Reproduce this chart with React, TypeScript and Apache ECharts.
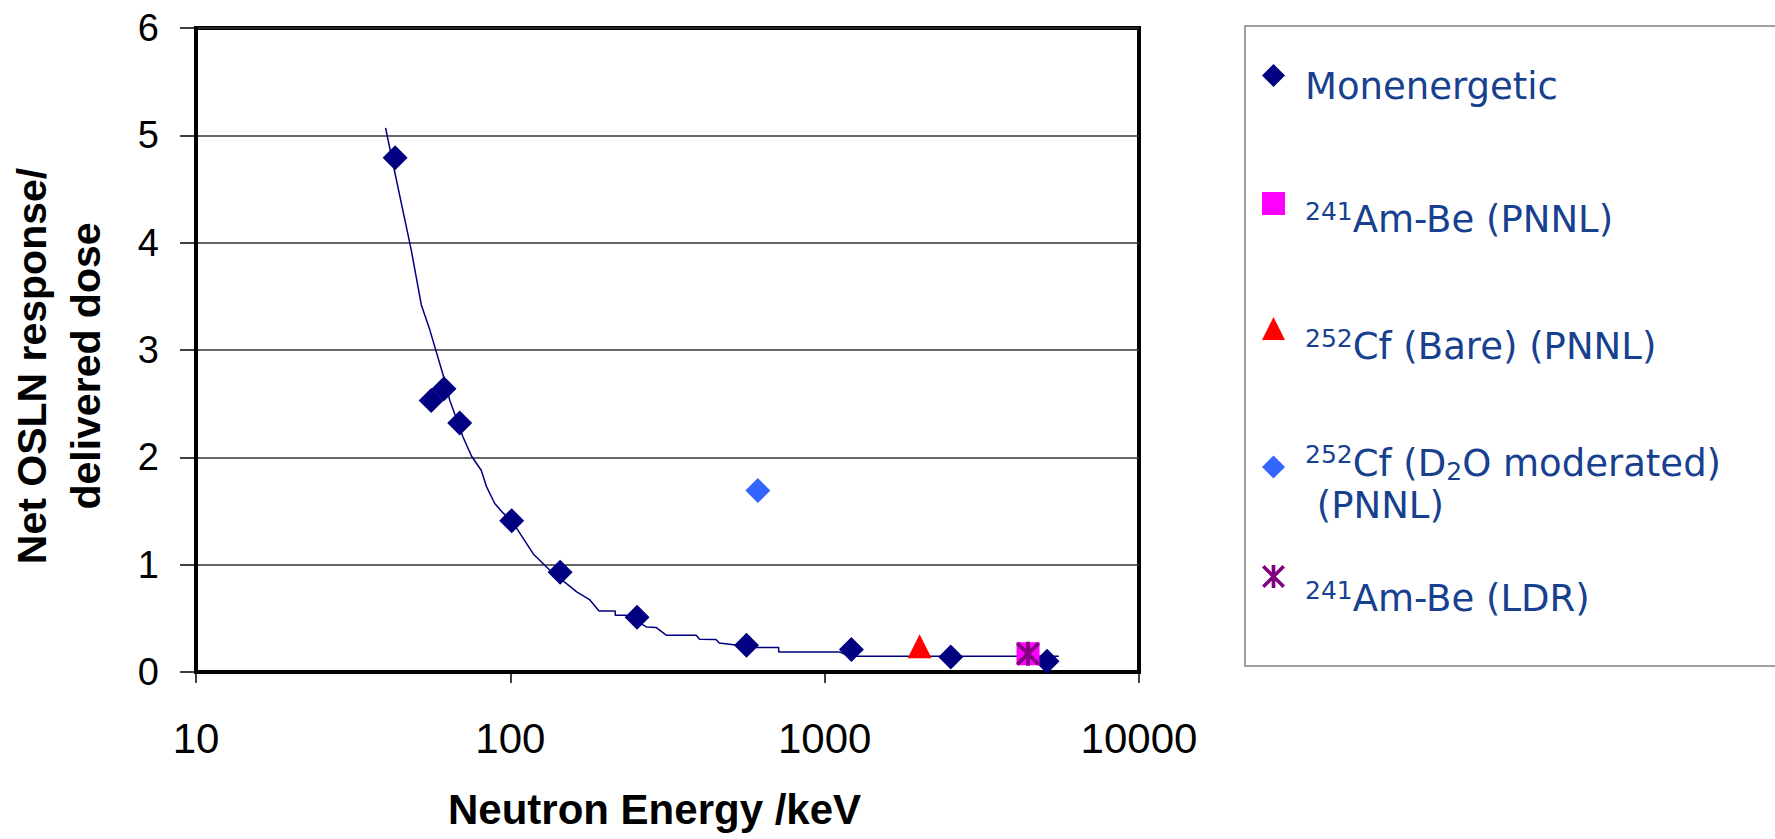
import React, { useEffect, useRef } from "react";
import * as echarts from "echarts";

// ---- data ----
const monoEnergy = [43, 56, 61.5, 69, 101, 144, 253, 564, 1216, 2518, 5100];
const monoResponse = [4.79, 2.53, 2.64, 2.32, 1.41, 0.93, 0.51, 0.25, 0.21, 0.14, 0.1];

const amBePnnlEnergy = [4436];
const amBePnnlResponse = [0.17];

const cfBareEnergy = [2005];
const cfBareResponse = [0.24];

const cfD2oEnergy = [613];
const cfD2oResponse = [1.69];

const amBeLdrEnergy = [4436];
const amBeLdrResponse = [0.17];

// fitted trend line through the monoenergetic points
const fitEnergy = [
  40.1, 42.3, 48.4, 52.1, 55.4, 61.1, 64.2, 70.7, 75.3, 80.8, 83.9, 89.2, 94.9, 101,
  118.3, 133.4, 162.6, 178.6, 191.5, 215.6, 215.6, 233.6, 271, 291.4, 314, 390, 400,
  451, 462, 605, 714, 714, 1113, 1200, 5560,
];
const fitResponse = [
  5.07, 4.74, 3.93, 3.42, 3.19, 2.77, 2.53, 2.19, 2.01, 1.88, 1.73, 1.57, 1.48, 1.41,
  1.1, 0.95, 0.746, 0.675, 0.569, 0.569, 0.529, 0.529, 0.42, 0.414, 0.342, 0.342, 0.305,
  0.302, 0.27, 0.228, 0.228, 0.187, 0.187, 0.146, 0.146,
];

const seriesNames = [
  "Monenergetic",
  "241Am-Be (PNNL)",
  "252Cf (Bare) (PNNL)",
  "252Cf (D2O moderated) (PNNL)",
  "241Am-Be (LDR)",
];
const legendLabels = [
  "{n|Monenergetic}",
  "{s|241}{n|Am-Be (PNNL)}",
  "{s|252}{n|Cf (Bare) (PNNL)}",
  "{s|252}{n|Cf (D}{b|2}{n|O moderated)}\n{n| (PNNL)}",
  "{s|241}{n|Am-Be (LDR)}",
];

const ASTERISK =
  "path://M42 0L58 0L58 100L42 100Z M11 0L100 89L89 100L0 11Z M89 0L100 11L11 100L0 89Z";

const pairs = (xs: number[], ys: number[]) => xs.map((x, i) => [x, ys[i]]);

export default function App() {
  const ref = useRef<HTMLDivElement>(null);

  useEffect(() => {
    document.body.style.margin = "0";
    if (!ref.current) return;
    const chart = echarts.init(ref.current, null, { renderer: "svg" });

    const legendText = "#17408f";
    const rich = {
      n: { fontSize: 37, fontFamily: "DejaVu Sans", color: legendText, lineHeight: 42 },
      s: { fontSize: 25, fontFamily: "DejaVu Sans", color: legendText, lineHeight: 26, verticalAlign: "top" },
      b: { fontSize: 25, fontFamily: "DejaVu Sans", color: legendText, lineHeight: 22, verticalAlign: "bottom" },
    };
    const legendIconY = [76, 204, 329, 454, 577];
    const legendPad = [22, 32, 36, 34, 44];
    const legends = seriesNames.map((name, i) => ({
      data: [name],
      left: 1262,
      top: legendIconY[i] - 12,
      orient: "vertical",
      padding: 0,
      itemWidth: 23,
      itemHeight: 23,
      selectedMode: false,
      formatter: () => legendLabels[i],
      textStyle: { rich, padding: [legendPad[i], 0, 0, 15] },
    }));

    const axisFont = "Liberation Sans, Arial, sans-serif";

    chart.setOption({
      animation: false,
      backgroundColor: "#fff",
      grid: {
        left: 196,
        right: 636,
        top: 28,
        bottom: 167,
        show: true,
        borderColor: "#000",
        borderWidth: 4,
        containLabel: false,
        outerBoundsMode: "none",
      },
      legend: legends,
      graphic: [
        {
          type: "rect",
          shape: { x: 1245, y: 26, width: 620, height: 640 },
          style: { fill: "none", stroke: "#808080", lineWidth: 1.5 },
          z: -1,
        },
      ],
      xAxis: {
        type: "log",
        logBase: 10,
        min: 10,
        max: 10000,
        axisLine: { show: true, onZero: false, lineStyle: { color: "#000", width: 4 } },
        axisTick: { show: true, length: 11, lineStyle: { color: "#000", width: 1.5 } },
        minorTick: { show: false },
        splitLine: { show: false },
        axisLabel: {
          fontSize: 42,
          color: "#000",
          fontFamily: axisFont,
          margin: 45,
          formatter: (v: number) => String(Math.round(v)),
        },
        name: "Neutron Energy /keV",
        nameLocation: "middle",
        nameGap: 116,
        nameTextStyle: {
          fontSize: 42,
          fontWeight: "bold",
          color: "#000",
          fontFamily: axisFont,
          padding: [0, 26, 0, 0],
        },
      },
      yAxis: {
        type: "value",
        min: 0,
        max: 6,
        interval: 1,
        axisLine: { show: true, onZero: false, lineStyle: { color: "#000", width: 4 } },
        axisTick: { show: true, length: 16, lineStyle: { color: "#000", width: 1.5 } },
        splitLine: { show: true, lineStyle: { color: "#333", width: 1.5 } },
        axisLabel: { fontSize: 38, color: "#000", fontFamily: axisFont, margin: 37 },
        name: "Net OSLN response/\ndelivered dose",
        nameLocation: "middle",
        nameRotate: 90,
        nameGap: 83,
        nameTextStyle: {
          fontSize: 41,
          fontWeight: "bold",
          color: "#000",
          fontFamily: axisFont,
          lineHeight: 54,
          padding: [0, 32, 0, 0],
        },
      },
      series: [
        {
          name: "fit",
          type: "line",
          data: pairs(fitEnergy, fitResponse),
          showSymbol: false,
          silent: true,
          lineStyle: { color: "#000080", width: 1.5 },
          itemStyle: { color: "#000080" },
          z: 1,
        },
        {
          name: seriesNames[0],
          type: "scatter",
          symbol: "diamond",
          symbolSize: 25,
          itemStyle: { color: "#000080", opacity: 1 },
          data: pairs(monoEnergy, monoResponse),
          z: 2,
        },
        {
          name: seriesNames[1],
          type: "scatter",
          symbol: "rect",
          symbolSize: 23,
          itemStyle: { color: "#FF00FF", opacity: 1 },
          data: pairs(amBePnnlEnergy, amBePnnlResponse),
          z: 3,
        },
        {
          name: seriesNames[2],
          type: "scatter",
          symbol: "triangle",
          symbolSize: 24,
          itemStyle: { color: "#FF0000", opacity: 1 },
          data: pairs(cfBareEnergy, cfBareResponse),
          z: 3,
        },
        {
          name: seriesNames[3],
          type: "scatter",
          symbol: "diamond",
          symbolSize: 25,
          itemStyle: { color: "#3366FF", opacity: 1 },
          data: pairs(cfD2oEnergy, cfD2oResponse),
          z: 3,
        },
        {
          name: seriesNames[4],
          type: "scatter",
          symbol: ASTERISK,
          symbolSize: 24,
          itemStyle: { color: "#800080", opacity: 1 },
          data: pairs(amBeLdrEnergy, amBeLdrResponse),
          z: 4,
        },
      ],
    });

    return () => chart.dispose();
  }, []);

  return <div ref={ref} style={{ width: 1775, height: 839 }} />;
}
